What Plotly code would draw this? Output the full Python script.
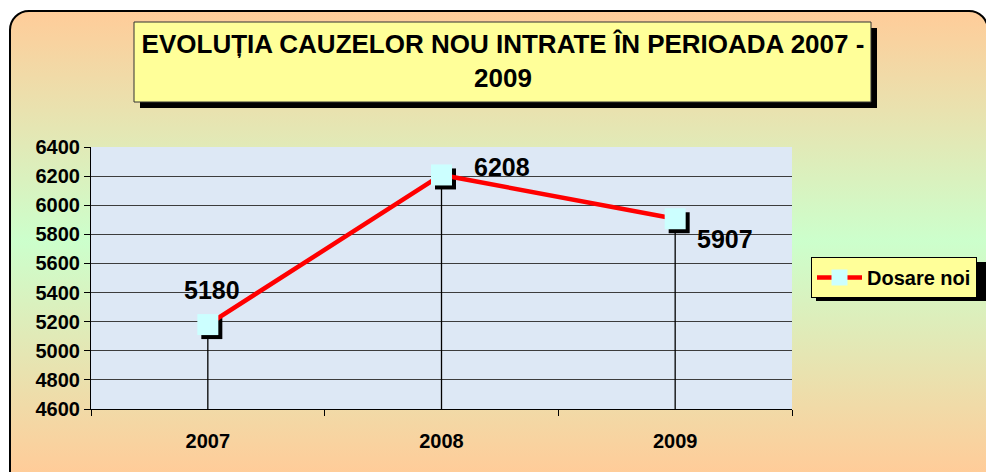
import base64
import plotly.graph_objects as go

# ---------------- data ----------------
categories = ["2007", "2008", "2009"]
values = [5180, 6208, 5907]
series_name = "Dosare noi"
y_min, y_max, y_step = 4600, 6400, 200
title_text = "EVOLUȚIA CAUZELOR NOU INTRATE ÎN PERIOADA 2007 -<br>2009"

# ---------------- layout geometry (pixels) ----------------
W, H = 986, 472
PX0, PX1 = 91, 792      # plot area left/right
PY0, PY1 = 147, 409     # plot area top/bottom
SHADOW = 4              # marker shadow offset in px

xdom = [PX0 / W, PX1 / W]
ydom = [1 - PY1 / H, 1 - PY0 / H]

# shadow axes: same domain, range shifted so marks appear SHADOW px right/down
x_units_per_px = len(categories) / (PX1 - PX0)
y_units_per_px = (y_max - y_min) / (PY1 - PY0)
xr_main = [-0.5, len(categories) - 0.5]
xr_shadow = [xr_main[0] - SHADOW * x_units_per_px, xr_main[1] - SHADOW * x_units_per_px]
yr_main = [y_min, y_max]
yr_shadow = [y_min + SHADOW * y_units_per_px, y_max + SHADOW * y_units_per_px]

FONT = "Liberation Sans, Arial, sans-serif"

# background gradient + rounded border as an SVG image (bottom edge runs off the page)
svg = f'''<svg xmlns="http://www.w3.org/2000/svg" width="{W}" height="{H}" viewBox="0 0 {W} {H}" overflow="hidden">
<defs><linearGradient id="g" gradientUnits="userSpaceOnUse" x1="0" y1="11" x2="0" y2="472">
<stop offset="0" stop-color="#FFCC99"/><stop offset="0.5" stop-color="#CCFFCC"/><stop offset="1" stop-color="#FFCC99"/>
</linearGradient></defs>
<rect x="10" y="11" width="978" height="530" rx="19" ry="19" fill="url(#g)" stroke="#000" stroke-width="2"/>
</svg>'''
svg_uri = "data:image/svg+xml;base64," + base64.b64encode(svg.encode()).decode()

fig = go.Figure()

# marker shadows (drawn first, on shifted hidden axes)
fig.add_trace(go.Scatter(
    x=categories, y=values, xaxis="x", yaxis="y", mode="markers",
    marker=dict(symbol="square", size=21, color="black", line=dict(width=0)),
    showlegend=False, hoverinfo="skip"))

# main series
fig.add_trace(go.Scatter(
    x=categories, y=values, xaxis="x2", yaxis="y2", mode="lines+markers",
    name=series_name,
    line=dict(color="#FF0000", width=4.5),
    marker=dict(symbol="square", size=21, color="#CCFFFF", line=dict(width=0)),
    error_y=dict(type="data", symmetric=False, array=[0] * len(values),
                 arrayminus=[v - y_min for v in values],
                 width=0, thickness=1.3, color="black")))

# data labels (x given as category index)
label_shift = [(4, 35), (60, 8), (50, -20)]
for i, (v, (dx, dy)) in enumerate(zip(values, label_shift)):
    fig.add_annotation(x=i, y=v, xref="x2", yref="y2", text=f"{v}", showarrow=False,
                       xshift=dx, yshift=dy,
                       font=dict(family=FONT, size=25, color="black", weight="bold"))

shapes = [
    # plot area background
    dict(type="rect", xref="x domain", yref="y domain", x0=0, x1=1, y0=0, y1=1,
         fillcolor="#DDE8F5", line=dict(width=0), layer="below"),
    # title box shadow + box
    dict(type="rect", xref="paper", yref="paper", x0=140 / W, x1=877 / W,
         y0=1 - 108 / H, y1=1 - 28 / H, fillcolor="black", line=dict(width=0), layer="below"),
    dict(type="rect", xref="paper", yref="paper", x0=134 / W, x1=871 / W,
         y0=1 - 102 / H, y1=1 - 22 / H, fillcolor="#FFFF99",
         line=dict(color="#333333", width=1), layer="below"),
    # legend shadow
    dict(type="rect", xref="paper", yref="paper", x0=816 / W, x1=992 / W,
         y0=1 - 301 / H, y1=1 - 262 / H, fillcolor="black", line=dict(width=0), layer="below"),
]

fig.update_layout(
    template="none",
    width=W, height=H,
    margin=dict(l=0, r=0, t=0, b=0, pad=0),
    paper_bgcolor="white", plot_bgcolor="rgba(0,0,0,0)",
    font=dict(family=FONT, color="black"),
    title=dict(text=title_text, x=503 / W, xanchor="center", y=1 - 53 / H, yanchor="middle",
               xref="paper", yref="paper",
               font=dict(family=FONT, size=26, color="black", weight="bold")),
    images=[dict(source=svg_uri, xref="paper", yref="paper", x=0, y=1, sizex=1, sizey=1,
                 sizing="stretch", xanchor="left", yanchor="top", layer="below")],
    shapes=shapes,
    xaxis=dict(domain=xdom, type="category", categoryarray=categories, categoryorder="array",
               range=xr_shadow, visible=False, fixedrange=True, automargin=False),
    yaxis=dict(domain=ydom, range=yr_shadow, visible=False, fixedrange=True, automargin=False),
    xaxis2=dict(overlaying="x", type="category", categoryarray=categories, categoryorder="array",
                range=xr_main, showgrid=False, showline=True, linecolor="black", linewidth=1,
                ticks="outside", tickson="boundaries", ticklen=6, tickcolor="black",
                ticklabelstandoff=14, automargin=False,
                tickfont=dict(family=FONT, size=20, color="black", weight="bold"),
                anchor="y2", side="bottom", zeroline=False),
    yaxis2=dict(overlaying="y", range=yr_main, dtick=y_step, tick0=y_min,
                showgrid=True, gridcolor="#3C3C3C", gridwidth=1,
                showline=True, linecolor="black", linewidth=1,
                ticks="outside", ticklen=6, tickcolor="black", ticklabelstandoff=0,
                automargin=False,
                tickfont=dict(family=FONT, size=20, color="black", weight="bold"),
                anchor="x2", side="left", zeroline=False),
    legend=dict(x=811 / W, y=1 - 257 / H, xanchor="left", yanchor="top",
                bgcolor="#FFFF99", bordercolor="black", borderwidth=1,
                font=dict(family=FONT, size=20, color="black", weight="bold"),
                itemwidth=45),
    showlegend=True,
)

fig.write_html("out.html", config={"displayModeBar": False},
               post_script="document.body.style.margin='0';document.body.style.overflow='hidden';")
